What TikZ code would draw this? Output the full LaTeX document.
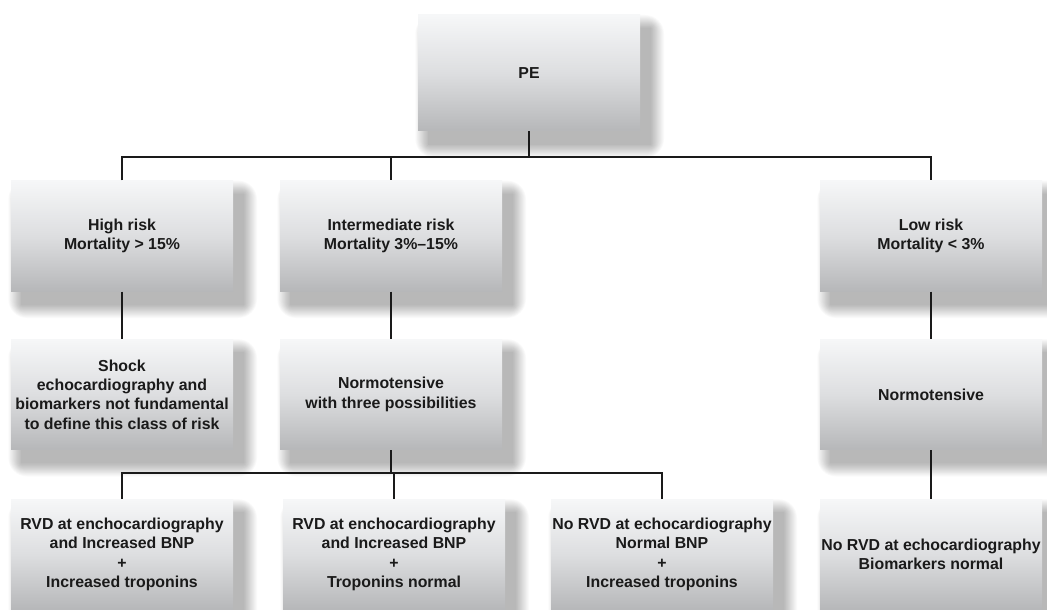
\documentclass[tikz,border=0pt]{standalone}
\usepackage{fontspec}
\setmainfont{Liberation Sans}
\usetikzlibrary{backgrounds}
\definecolor{ink}{HTML}{1A1A1A}
\definecolor{gtop}{HTML}{F6F7F8}
\definecolor{gmid}{HTML}{DDDEE0}
\definecolor{gbot}{HTML}{B6B7B9}
\begin{document}
\begin{tikzpicture}[x=0.75pt,y=-0.75pt,
  box/.style={draw=none, top color=gtop, bottom color=gbot, middle color=gmid,
    minimum width=166.5pt, minimum height=83pt, align=center, inner sep=0pt,
    font=\fontsize{11.9}{14.5}\selectfont\bfseries, text=ink},
  shade layer/.style={fill=black, fill opacity=0.018},
  link/.style={draw=ink, line width=1.9pt}]
\useasboundingbox (0,0) rectangle (1047,610);

\node[box, minimum height=87pt] (pe) at (529,73) {PE};

\node[box] (high) at (122,236) {High risk\\Mortality > 15\%};
\node[box] (inter) at (391,236) {Intermediate risk\\Mortality 3\%--15\%};
\node[box] (low) at (931,236) {Low risk\\Mortality < 3\%};

\node[box] (shock) at (122,394.5) {Shock\\echocardiography and\\biomarkers not fundamental\\to define this class of risk};
\node[box] (normo) at (391,394.5) {Normotensive\\with three possibilities};
\node[box] (normr) at (931,394.5) {Normotensive};

\node[box] (c1) at (122,554.5) {RVD at enchocardiography\\and Increased BNP\\+\\Increased troponins};
\node[box] (c2) at (394,554.5) {RVD at enchocardiography\\and Increased BNP\\+\\Troponins normal};
\node[box] (c3) at (662,554.5) {No RVD at echocardiography\\Normal BNP\\+\\Increased troponins};
\node[box] (c4) at (931,554.5) {No RVD at echocardiography\\Biomarkers normal};

\begin{pgfonlayer}{background}
\fill[white] (0,0) rectangle (1047,610);
\foreach \n in {pe,high,inter,low,shock,normo,normr,c1,c2,c3,c4}{
  \foreach \k in {0,1,...,14}{
    \fill[shade layer, rounded corners=\k pt]
      ([xshift=8pt-0.7*\k pt, yshift=-10pt+0.7*\k pt]\n.north west)
      rectangle ([xshift=8pt+0.7*\k pt, yshift=-10pt-0.7*\k pt]\n.south east);
  }
}
\end{pgfonlayer}

\coordinate (j1) at (529,157);
\coordinate (j2) at (391,473);

\draw[link] (pe.south) -- (j1);
\draw[link] (high.north) |- (j1) -| (low.north);
\draw[link] (j1) -| (inter.north);

\draw[link] (high.south) -- (shock.north);
\draw[link] (inter.south) -- (normo.north);
\draw[link] (low.south) -- (normr.north);

\draw[link] (normo.south) -- (j2);
\draw[link] (c1.north) |- (j2) -| (c3.north);
\draw[link] (j2) -| (c2.north);
\draw[link] (normr.south) -- (c4.north);
\end{tikzpicture}
\end{document}
